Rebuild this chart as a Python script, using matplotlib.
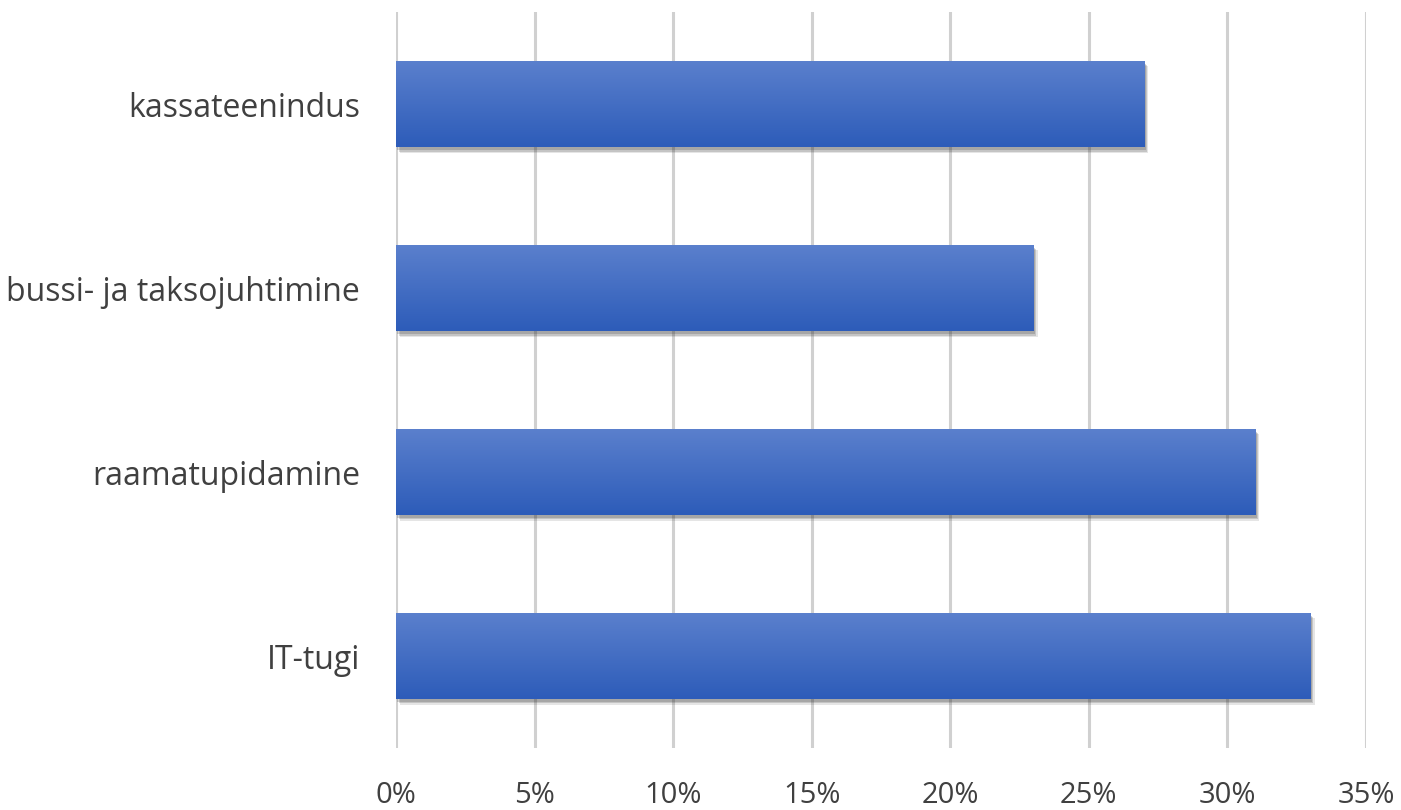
import numpy as np
import matplotlib.pyplot as plt
import matplotlib.patheffects as pe
from matplotlib.colors import LinearSegmentedColormap

categories = ['IT-tugi', 'raamatupidamine', 'bussi- ja taksojuhtimine', 'kassateenindus']
values = [33, 31, 23, 27]
xticks = [0, 5, 10, 15, 20, 25, 30, 35]
xticklabels = ['0%', '5%', '10%', '15%', '20%', '25%', '30%', '35%']

c_top = '#5b80cd'
c_bot = '#2d5cb9'
c_text = '#404040'
c_grid = '#d0d0d0'

plt.rcParams['font.family'] = ['Open Sans', 'DejaVu Sans']

fig = plt.figure(figsize=(14.01, 8.10), dpi=100)
ax = fig.add_axes([0.2827, 0.0765, 0.975 - 0.2827, 0.985 - 0.0765])

ypos = np.arange(len(categories))
bh = 0.47
bars = ax.barh(ypos, values, height=bh, color=c_bot, zorder=3)

cmap = LinearSegmentedColormap.from_list('grad', [c_bot, c_top])
grad = np.linspace(0, 1, 256).reshape(-1, 1)
for b, y, v in zip(bars, ypos, values):
    # soft shadow: a few faint offset copies
    b.set_path_effects([pe.SimplePatchShadow(offset=(3, -4), alpha=0.12, shadow_rgbFace='#303030'),
                        pe.SimplePatchShadow(offset=(2, -3), alpha=0.18, shadow_rgbFace='#303030'),
                        pe.SimplePatchShadow(offset=(1, -2), alpha=0.2, shadow_rgbFace='#303030'),
                        pe.Normal()])
    im = ax.imshow(grad, cmap=cmap, aspect='auto', origin='lower',
                   extent=[0, v, y - bh / 2, y + bh / 2], zorder=4)
    im.set_clip_path(b)

ax.set_xlim(0, 35)
ax.set_ylim(-0.5, 3.5)
ax.set_xticks(xticks)
ax.set_xticklabels(xticklabels, fontsize=21)
ax.set_yticks(ypos)
ax.set_yticklabels(categories, fontsize=23)
ax.tick_params(axis='both', length=0, labelcolor=c_text)
ax.tick_params(axis='y', pad=26)
ax.tick_params(axis='x', pad=24)
ax.xaxis.grid(True, color=c_grid, linewidth=2.2, zorder=0)
ax.set_axisbelow(True)
for s in ax.spines.values():
    s.set_visible(False)

fig.savefig('out.png', dpi=100)
